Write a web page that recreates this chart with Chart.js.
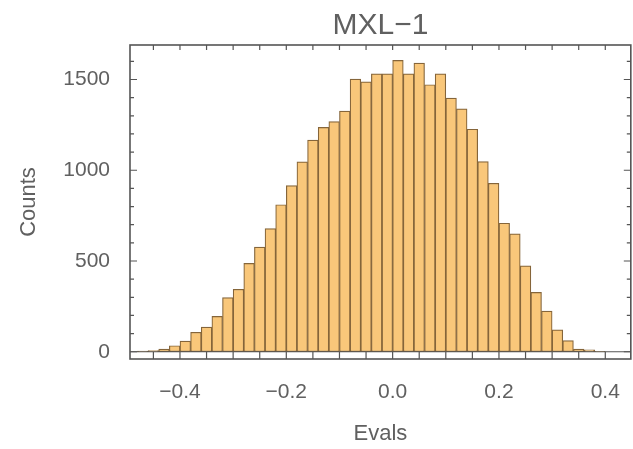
<!DOCTYPE html>
<html lang="en">
<head>
  <meta charset="UTF-8" />
  <title>MXL-1</title>
  <script src="https://cdn.jsdelivr.net/npm/chart.js@4.4.1/dist/chart.umd.min.js"></script>
  <style>
    body { margin: 0; background: #fff; }
    #wrap { width: 633px; height: 449px; position: relative; }
  </style>
</head>
<body>
  <div id="wrap"><canvas id="hist"></canvas></div>

  <script>
    // histogram bins (left edge of each bin, width 0.02) and counts
    const binWidth = 0.02
    const binLeft = [
      -0.48, -0.46, -0.44, -0.42, -0.40, -0.38, -0.36, -0.34, -0.32, -0.30,
      -0.28, -0.26, -0.24, -0.22, -0.20, -0.18, -0.16, -0.14, -0.12, -0.10,
      -0.08, -0.06, -0.04, -0.02, 0.00, 0.02, 0.04, 0.06, 0.08, 0.10,
      0.12, 0.14, 0.16, 0.18, 0.20, 0.22, 0.24, 0.26, 0.28, 0.30,
      0.32, 0.34, 0.36, 0.38
    ]
    const counts = [
      3, 6, 15, 33, 59, 107, 136, 195, 298, 344,
      487, 577, 678, 810, 915, 1046, 1166, 1236, 1268, 1326,
      1502, 1487, 1531, 1531, 1605, 1531, 1590, 1471, 1531, 1397,
      1338, 1226, 1048, 928, 708, 649, 473, 327, 224, 121,
      61, 15, 10, 2
    ]

    const xTickValues = [-0.4, -0.2, 0.0, 0.2, 0.4]
    const xTickLabels = ['\u22120.4', '\u22120.2', '0.0', '0.2', '0.4']
    const yTickValues = [0, 500, 1000, 1500]
    const yTickLabels = ['0', '500', '1000', '1500']

    const frameColor = '#555555'
    const textColor = '#606060'
    const fontFamily = '"Liberation Sans", Arial, sans-serif'

    // Mathematica-style frame with inward ticks on all four sides
    const framePlugin = {
      id: 'frame',
      afterDatasetsDraw(chart) {
        const {ctx, chartArea: a, scales: {x, y}} = chart
        ctx.save()
        ctx.strokeStyle = frameColor
        ctx.lineWidth = 1.2
        // zero line across the whole plot, as in the reference
        const y0 = y.getPixelForValue(0)
        ctx.beginPath()
        ctx.moveTo(a.left, y0); ctx.lineTo(a.right, y0)
        ctx.stroke()
        ctx.lineWidth = 1.6
        ctx.strokeRect(a.left, a.top, a.right - a.left, a.bottom - a.top)
        ctx.lineWidth = 1.2
        ctx.beginPath()
        for (let v = -0.45; v <= x.max + 1e-9; v += 0.05) {
          if (v < x.min) continue
          const px = x.getPixelForValue(v)
          ctx.moveTo(px, a.bottom); ctx.lineTo(px, a.bottom - 7)
          ctx.moveTo(px, a.top); ctx.lineTo(px, a.top + 5)
        }
        for (let v = 0; v <= y.max; v += 100) {
          const py = y.getPixelForValue(v)
          const len = v % 500 === 0 ? 7 : 4
          ctx.moveTo(a.left, py); ctx.lineTo(a.left + len, py)
          ctx.moveTo(a.right, py); ctx.lineTo(a.right - len, py)
        }
        ctx.stroke()
        ctx.restore()
      }
    }

    function renderChart() {
      const ctx = document.getElementById('hist').getContext('2d')
      new Chart(ctx, {
        type: 'bar',
        data: {
          datasets: [{
            data: binLeft.map((b, i) => ({x: b + binWidth / 2, y: counts[i]})),
            backgroundColor: '#f9c77a',
            borderColor: '#85653a',
            borderWidth: 1.2,
            borderSkipped: false,
            barPercentage: 1,
            categoryPercentage: 1
          }]
        },
        options: {
          responsive: true,
          maintainAspectRatio: false,
          animation: false,
          layout: { padding: { left: 0, right: 2, top: 0, bottom: 0 } },
          plugins: {
            legend: { display: false },
            tooltip: { enabled: false },
            title: {
              display: true,
              text: 'MXL\u22121',
              fullSize: false,
              color: textColor,
              font: { family: fontFamily, size: 30, weight: 'normal', lineHeight: 1.2 },
              padding: { top: 8, bottom: 1 }
            }
          },
          scales: {
            x: {
              type: 'linear',
              offset: false,
              min: -0.494,
              max: 0.448,
              grid: { display: false },
              border: { display: false },
              afterBuildTicks: s => { s.ticks = xTickValues.map(v => ({value: v})) },
              afterFit: s => { s.height = 90 },
              ticks: {
                color: textColor,
                padding: 13,
                font: { family: fontFamily, size: 21 },
                callback: (v) => xTickLabels[xTickValues.findIndex(t => Math.abs(t - v) < 1e-9)]
              },
              title: {
                display: true,
                text: 'Evals',
                color: textColor,
                font: { family: fontFamily, size: 22 },
                padding: { top: 0, bottom: 2 }
              }
            },
            y: {
              min: -40,
              max: 1690,
              border: { display: false },
              grid: { display: false },
              afterBuildTicks: s => { s.ticks = yTickValues.map(v => ({value: v})) },
              afterFit: s => { s.width = 130 },
              ticks: {
                color: textColor,
                padding: 12,
                font: { family: fontFamily, size: 21 },
                callback: (v) => yTickLabels[yTickValues.indexOf(v)]
              },
              title: {
                display: true,
                text: 'Counts',
                color: textColor,
                font: { family: fontFamily, size: 22 },
                padding: { top: 16, bottom: 0 }
              }
            }
          }
        },
        plugins: [framePlugin]
      })
    }

    renderChart()
  </script>
</body>
</html>
